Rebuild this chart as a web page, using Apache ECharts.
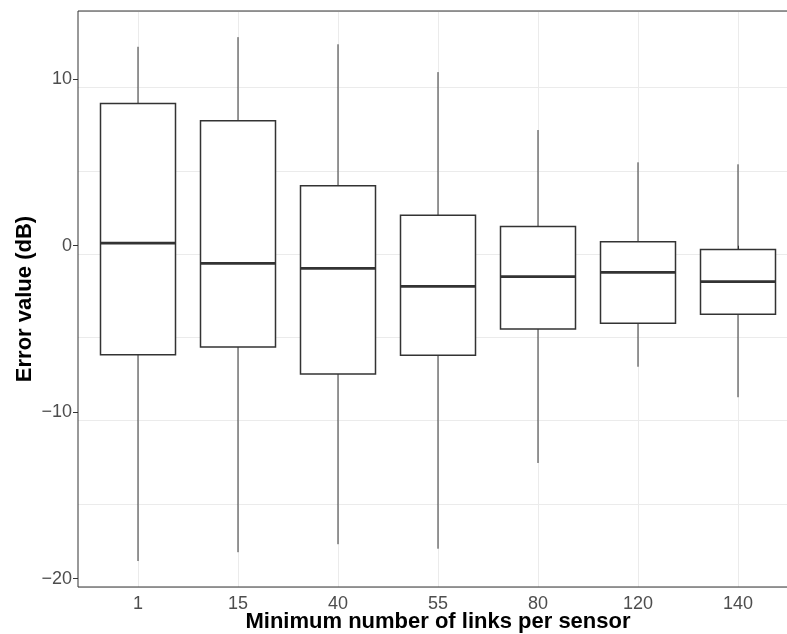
<!DOCTYPE html>
<html>
<head>
<meta charset="utf-8">
<script src="https://cdn.jsdelivr.net/npm/echarts@6/dist/echarts.min.js"></script>
<style>html,body{margin:0;padding:0;background:#fff}#c{width:787px;height:634px}</style>
</head>
<body>
<div id="c"></div>
<script>
const categories = ['1', '15', '40', '55', '80', '120', '140'];
const whiskerLow = [-18.94, -18.41, -17.93, -18.2, -13.05, -7.27, -9.1];
const q1 = [-6.55, -6.08, -7.7, -6.58, -5.0, -4.66, -4.12];
const median = [0.16, -1.06, -1.36, -2.44, -1.86, -1.6, -2.16];
const q3 = [8.55, 7.51, 3.6, 1.83, 1.16, 0.24, -0.22];
const whiskerHigh = [11.95, 12.53, 12.1, 10.43, 6.95, 5.01, 4.89];
const yTicks = [-20, -10, 0, 10];

const boxWidth = 0.75;
const data = categories.map((c, i) => [i + 1, whiskerLow[i], q1[i], median[i], q3[i], whiskerHigh[i]]);

const chart = echarts.init(document.getElementById('c'), null, {renderer: 'canvas'});
const font = "'Liberation Sans', Arial, sans-serif";

chart.setOption({
  animation: false,
  backgroundColor: '#ffffff',
  grid: {left: 78, top: 11, width: 720, height: 576, outerBoundsMode: 'none', containLabel: false,
    show: true, borderColor: '#333333', borderWidth: 1, backgroundColor: 'transparent', z: 10},
  xAxis: {
    type: 'value', min: 0.4, max: 7.6, interval: 1,
    name: 'Minimum number of links per sensor', nameLocation: 'middle', nameGap: 24, nameMoveOverlap: false,
    nameTextStyle: {fontFamily: font, fontSize: 22, fontWeight: 'bold', color: '#000'},
    axisLine: {show: false},
    axisTick: {show: true, length: 5, lineStyle: {color: '#333333'}, customValues: [1, 2, 3, 4, 5, 6, 7]},
    axisLabel: {show: true, margin: 8, fontFamily: font, fontSize: 18, color: '#4d4d4d',
      customValues: [1, 2, 3, 4, 5, 6, 7],
      formatter: v => Number.isInteger(v) && v >= 1 && v <= 7 ? categories[v - 1] : ''},
    splitLine: {show: true, lineStyle: {color: '#ebebeb', width: 1}}
  },
  yAxis: [{
    type: 'value', min: -20.5, max: 14.1, interval: 10,
    name: 'Error value (dB)', nameLocation: 'middle', nameGap: 42, nameRotate: 90, nameMoveOverlap: false,
    nameTextStyle: {fontFamily: font, fontSize: 22, fontWeight: 'bold', color: '#000'},
    axisLine: {show: false},
    axisTick: {show: true, length: 5, lineStyle: {color: '#333333'}, customValues: yTicks},
    axisLabel: {show: true, margin: 6, fontFamily: font, fontSize: 18, color: '#4d4d4d',
      customValues: yTicks,
      formatter: v => (yTicks.indexOf(v) >= 0 ? (v < 0 ? '\u2212' + Math.abs(v) : String(v)) : '')},
    splitLine: {show: false}
  }, {
    type: 'value', min: -20.5, max: 14.1, interval: 5,
    axisLine: {show: false}, axisTick: {show: false}, axisLabel: {show: false},
    splitLine: {show: true, lineStyle: {color: '#ebebeb', width: 1}}
  }],
  series: [{
    type: 'custom',
    yAxisIndex: 0,
    encode: {x: 0, y: [1, 2, 3, 4, 5]},
    data: data,
    renderItem: function (params, api) {
      const x = api.value(0);
      const pLo = api.coord([x, api.value(1)]);
      const pQ1 = api.coord([x, api.value(2)]);
      const pMed = api.coord([x, api.value(3)]);
      const pQ3 = api.coord([x, api.value(4)]);
      const pHi = api.coord([x, api.value(5)]);
      const w = api.size([boxWidth, 0])[0];
      const cx = pMed[0];
      return {
        type: 'group',
        children: [
          {type: 'line', shape: {x1: cx, y1: pHi[1], x2: cx, y2: pQ3[1]}, style: {stroke: '#333333', lineWidth: 1}},
          {type: 'line', shape: {x1: cx, y1: pQ1[1], x2: cx, y2: pLo[1]}, style: {stroke: '#333333', lineWidth: 1}},
          {type: 'rect', shape: {x: cx - w / 2, y: pQ3[1], width: w, height: pQ1[1] - pQ3[1]}, style: {fill: '#ffffff', stroke: '#333333', lineWidth: 1.5}},
          {type: 'line', shape: {x1: cx - w / 2, y1: pMed[1], x2: cx + w / 2, y2: pMed[1]}, style: {stroke: '#333333', lineWidth: 2.8}}
        ]
      };
    }
  }]
});
</script>
</body>
</html>
